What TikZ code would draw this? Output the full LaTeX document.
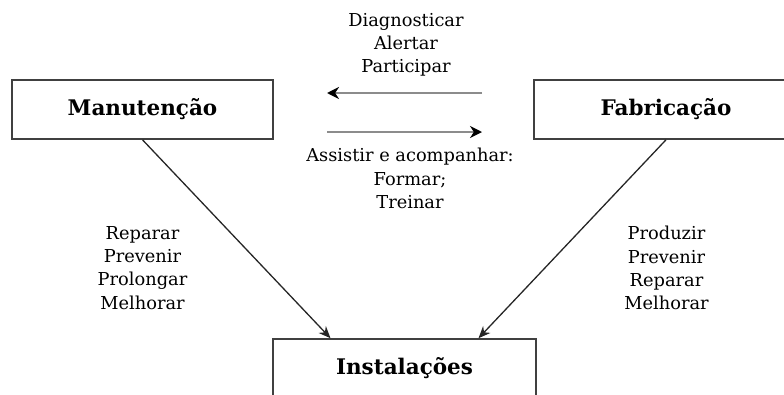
\documentclass[tikz,border=0pt]{standalone}
\usepackage{fontspec}
\setmainfont{DejaVu Serif}
\usetikzlibrary{arrows.meta}
\begin{document}
\begin{tikzpicture}[x=1pt,y=-1pt,
  box/.style={draw=black!75, line width=1.6pt, minimum height=59pt, inner sep=0pt,
    font=\fontsize{21.5}{23}\selectfont\bfseries},
  lbl/.style={align=center, inner sep=0pt, anchor=north,
    font=\fontsize{17.8}{23.3}\selectfont},
  link/.style={draw=black!85, line width=1.3pt, -{Stealth[length=12pt,width=10pt]}},
  flow/.style={draw=black!45, line width=2pt,
    -{Stealth[length=12pt,width=12pt,color=black]}}]
\useasboundingbox (0,0) rectangle (784,394);
\clip (0,0) rectangle (784,394);

% the three blocks
\node[box, minimum width=261pt] (man) at (142.5,109.5) {Manutenção};
\node[box, minimum width=264pt] (fab) at (666,109.5) {Fabricação};
\node[box, minimum width=263pt] (inst) at (404.5,368.5) {Instalações};

% exchanges between maintenance and production
\coordinate (t1) at (482,93);
\coordinate (t2) at (327,93);
\coordinate (b1) at (327,132);
\coordinate (b2) at (482,132);
\draw[flow] (t1) -- (t2);
\draw[flow] (b1) -- (b2);

\node[lbl] (top) at (406,13) {Diagnosticar\\Alertar\\Participar};
\node[lbl] (bot) at (410,148) {Assistir e acompanhar:\\Formar;\\Treinar};

% actions on the installations
\draw[link] (man.south) -- ([xshift=-74pt]inst.north);
\draw[link] (fab.south) -- ([xshift=74pt]inst.north);

\node[lbl] (left) at (142.5,226) {Reparar\\Prevenir\\Prolongar\\Melhorar};
\node[lbl] (right) at (666.5,226) {Produzir\\Prevenir\\Reparar\\Melhorar};
\end{tikzpicture}
\end{document}
